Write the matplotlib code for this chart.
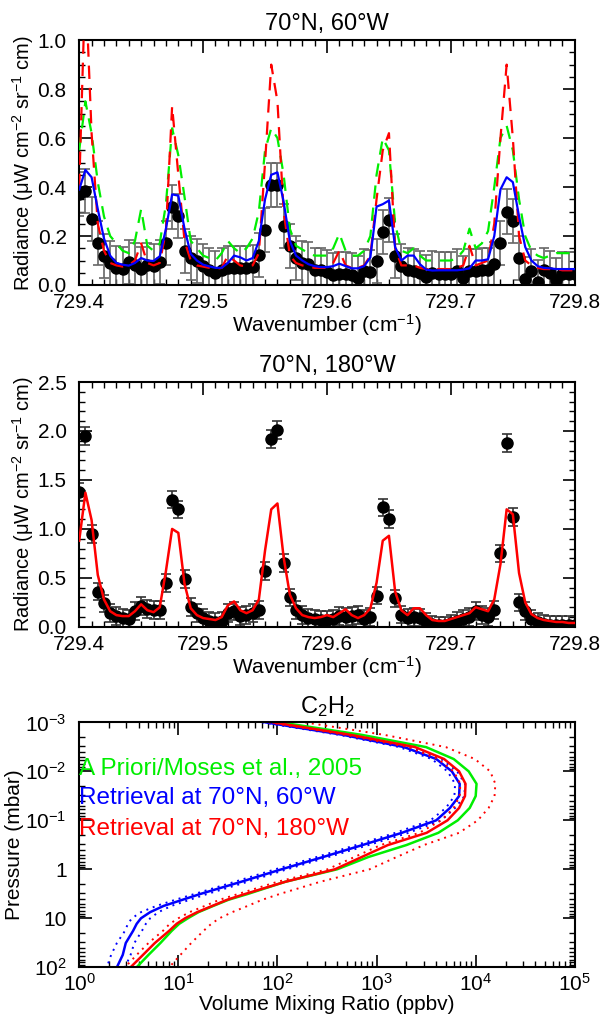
import numpy as np
import matplotlib.pyplot as plt
from matplotlib.ticker import MultipleLocator, FixedLocator, FixedFormatter, LogLocator, NullFormatter

plt.rcParams['font.family'] = ['Liberation Sans', 'DejaVu Sans']
plt.rcParams['mathtext.fontset'] = 'custom'
plt.rcParams['mathtext.rm'] = 'Liberation Sans'
plt.rcParams['mathtext.it'] = 'Liberation Sans:italic'
plt.rcParams['mathtext.default'] = 'regular'
plt.rcParams['axes.linewidth'] = 1.5

# spectral grid (cm-1), 0.005 spacing
wavenumber = np.linspace(729.4, 729.8, 81)

# 70N, 60W spectrum
obs_60w = [0.37, 0.385, 0.27, 0.17, 0.12, 0.09, 0.07, 0.065, 0.094, 0.08,
           0.065, 0.083, 0.076, 0.092, 0.17, 0.32, 0.28, 0.14, 0.11, 0.097,
           0.076, 0.06, 0.05, 0.06, 0.07, 0.07, 0.068, 0.068, 0.075, 0.124,
           0.225, 0.41, 0.41, 0.24, 0.16, 0.11, 0.09, 0.085, 0.063, 0.063,
           0.054, 0.042, 0.045, 0.045, 0.042, 0.028, 0.056, 0.052, 0.099, 0.218,
           0.265, 0.12, 0.077, 0.063, 0.056, 0.05, 0.031, 0.05, 0.045, 0.045,
           0.045, 0.056, 0.028, 0.056, 0.059, 0.063, 0.063, 0.085, 0.17, 0.30,
           0.26, 0.11, 0.025, 0.059, 0.014, 0.063, 0.05, 0.02, 0.045, 0.045,
           0.045]
fit_60w = [0.39, 0.47, 0.44, 0.31, 0.19, 0.12, 0.09, 0.083, 0.079, 0.09,
           0.11, 0.10, 0.098, 0.117, 0.23, 0.37, 0.365, 0.23, 0.127, 0.10,
           0.083, 0.076, 0.07, 0.07, 0.09, 0.12, 0.113, 0.10, 0.11, 0.18,
           0.35, 0.45, 0.46, 0.34, 0.18, 0.12, 0.10, 0.085, 0.077, 0.073,
           0.073, 0.077, 0.087, 0.077, 0.068, 0.068, 0.077, 0.113, 0.32, 0.33,
           0.345, 0.155, 0.10, 0.12, 0.12, 0.085, 0.063, 0.059, 0.06, 0.06,
           0.06, 0.06, 0.063, 0.068, 0.10, 0.10, 0.105, 0.20, 0.39, 0.44,
           0.42, 0.28, 0.155, 0.10, 0.077, 0.07, 0.068, 0.065, 0.065, 0.065,
           0.065]
red_60w = [0.40, 1.25, 0.62, 0.25, 0.14, 0.09, 0.08, 0.075, 0.08, 0.10,
           0.17, 0.09, 0.08, 0.09, 0.22, 0.73, 0.45, 0.18, 0.10, 0.08,
           0.075, 0.07, 0.065, 0.07, 0.12, 0.10, 0.08, 0.075, 0.08, 0.13,
           0.50, 0.90, 0.75, 0.30, 0.12, 0.09, 0.08, 0.075, 0.07, 0.07,
           0.07, 0.09, 0.14, 0.08, 0.07, 0.07, 0.08, 0.12, 0.35, 0.55,
           0.62, 0.15, 0.08, 0.08, 0.08, 0.07, 0.065, 0.065, 0.065, 0.065,
           0.065, 0.07, 0.08, 0.16, 0.08, 0.09, 0.10, 0.25, 0.60, 0.90,
           0.60, 0.20, 0.10, 0.08, 0.07, 0.065, 0.065, 0.065, 0.06, 0.06,
           0.06]
apriori_60w = [0.55, 0.75, 0.62, 0.42, 0.28, 0.20, 0.17, 0.14, 0.13, 0.18,
               0.31, 0.16, 0.14, 0.17, 0.33, 0.64, 0.53, 0.36, 0.18, 0.15,
               0.12, 0.11, 0.10, 0.13, 0.18, 0.15, 0.13, 0.15, 0.19, 0.30,
               0.55, 0.64, 0.60, 0.45, 0.23, 0.16, 0.145, 0.13, 0.12, 0.12,
               0.12, 0.15, 0.21, 0.14, 0.12, 0.12, 0.14, 0.20, 0.45, 0.60,
               0.55, 0.25, 0.14, 0.13, 0.15, 0.12, 0.10, 0.10, 0.10, 0.10,
               0.10, 0.11, 0.14, 0.23, 0.15, 0.17, 0.22, 0.40, 0.60, 0.65,
               0.55, 0.35, 0.20, 0.14, 0.12, 0.11, 0.12, 0.13, 0.13, 0.13,
               0.13]

# 70N, 180W spectrum
obs_180w = [1.38, 1.95, 0.95, 0.36, 0.24, 0.14, 0.11, 0.09, 0.08, 0.16,
            0.21, 0.18, 0.17, 0.17, 0.45, 1.30, 1.20, 0.49, 0.20, 0.14,
            0.09, 0.06, 0.05, 0.06, 0.14, 0.16, 0.11, 0.12, 0.14, 0.17,
            0.57, 1.92, 2.01, 0.65, 0.30, 0.17, 0.12, 0.09, 0.08, 0.07,
            0.07, 0.08, 0.11, 0.10, 0.11, 0.12, 0.08, 0.10, 0.32, 1.22,
            1.10, 0.29, 0.125, 0.09, 0.10, 0.09, 0.05, 0.025, 0.015, 0.015,
            0.035, 0.06, 0.08, 0.10, 0.16, 0.12, 0.10, 0.17, 0.75, 1.88,
            1.12, 0.25, 0.16, 0.08, 0.05, 0.03, 0.02, 0.02, 0.02, 0.02,
            0.02]
fit_180w = [0.88, 1.37, 1.09, 0.53, 0.28, 0.16, 0.12, 0.11, 0.11, 0.16,
            0.23, 0.17, 0.15, 0.20, 0.57, 1.00, 0.96, 0.44, 0.19, 0.12,
            0.09, 0.08, 0.07, 0.10, 0.22, 0.26, 0.17, 0.14, 0.17, 0.28,
            0.78, 1.20, 1.26, 0.71, 0.33, 0.19, 0.12, 0.10, 0.09, 0.10,
            0.12, 0.10, 0.14, 0.18, 0.12, 0.09, 0.12, 0.19, 0.45, 0.88,
            0.93, 0.36, 0.17, 0.12, 0.19, 0.19, 0.12, 0.07, 0.06, 0.06,
            0.08, 0.10, 0.12, 0.14, 0.20, 0.18, 0.16, 0.28, 0.64, 1.20,
            1.15, 0.55, 0.25, 0.13, 0.09, 0.07, 0.06, 0.05, 0.05, 0.04,
            0.04]
err_60w = 0.09
err_180w = 0.09

# C2H2 profiles (pressure in mbar, vmr in ppbv)
pressure = [1e-3, 1.8e-3, 3.2e-3, 5.6e-3, 1e-2, 1.8e-2, 3.2e-2, 5.6e-2, 0.1, 0.18,
            0.32, 0.56, 1.0, 1.8, 3.2, 4.2, 5.6, 7.5, 10.0, 13.0, 18.0, 32.0, 56.0, 100.0]
vmr_apriori = [107, 710, 3160, 6000, 8500, 10200, 10000, 8700, 6600, 4200,
               2000, 830, 400, 120, 50, 32, 22.5, 16, 12.5, 10.2, 8.6, 6.6, 5.0, 3.8]
vmr_60w = [76, 460, 1900, 4000, 5750, 6900, 6800, 5500, 4000, 1800,
           720, 290, 110, 43, 16.6, 11, 7.1, 5.2, 4.2, 3.8, 3.5, 2.95, 2.75, 2.4]
vmr_60w_lo = [70, 420, 1700, 3600, 5200, 6200, 6100, 5000, 3500, 1550,
              620, 250, 95, 37, 14.5, 9.3, 6.0, 4.2, 3.4, 3.1, 2.9, 2.4, 2.1, 1.9]
vmr_60w_hi = [82, 510, 2150, 4500, 6500, 7800, 7700, 6200, 4500, 2100,
              830, 330, 125, 50, 19.5, 13, 8.5, 6.3, 5.2, 4.7, 4.3, 3.6, 3.3, 2.9]
vmr_180w = [91, 550, 2450, 4800, 6800, 7900, 7800, 6800, 5200, 3200,
            1300, 710, 380, 120, 47, 31, 22, 15.5, 11.7, 9.6, 8.1, 5.8, 4.4, 3.3]
vmr_180w_lo = [82, 480, 2100, 4200, 6000, 7000, 6900, 6000, 4500, 2700,
               1100, 600, 320, 100, 40, 26, 18.5, 13, 10, 8.2, 7.0, 5.0, 3.8, 2.9]
vmr_180w_hi = [190, 1200, 5000, 9800, 14000, 15800, 15500, 13500, 10500, 6800,
               3000, 1600, 850, 270, 105, 70, 50, 35, 26, 21.5, 18, 13.5, 10.5, 8.1]

fs = 15
fig = plt.figure(figsize=(6, 10.16), dpi=100)
ax1 = fig.add_axes([0.132, 0.7195, 0.826, 0.241])
ax2 = fig.add_axes([0.132, 0.383, 0.826, 0.241])
ax3 = fig.add_axes([0.132, 0.048, 0.826, 0.241])

def style(ax):
    ax.tick_params(which='both', direction='in', top=True, right=True, labelsize=fs)
    ax.tick_params(axis='x', which='both', pad=6)
    ax.tick_params(axis='y', which='both', pad=9)
    ax.tick_params(which='major', length=9, width=1.2)
    ax.tick_params(which='minor', length=4.5, width=1.0)

ylab = 'Radiance ($\\mu$W cm$^{-2}$ sr$^{-1}$ cm)'

# panel 1
ax1.errorbar(wavenumber, obs_60w, yerr=err_60w, fmt='none', ecolor='#666666',
             elinewidth=1.2, capsize=3.5, capthick=1.2, zorder=2)
ax1.plot(wavenumber, obs_60w, 'o', color='black', markersize=8, zorder=3)
ax1.plot(wavenumber, apriori_60w, color='#00ee00', lw=1.6, dashes=(6, 4), zorder=4)
ax1.plot(wavenumber, red_60w, color='red', lw=1.6, dashes=(6, 4), zorder=5)
ax1.plot(wavenumber, fit_60w, color='blue', lw=1.6, zorder=6)
ax1.set_xlim(729.4, 729.8)
ax1.set_ylim(0, 1.0)
ax1.xaxis.set_major_locator(MultipleLocator(0.1))
ax1.xaxis.set_minor_locator(MultipleLocator(0.01))
ax1.yaxis.set_major_locator(MultipleLocator(0.2))
ax1.yaxis.set_minor_locator(MultipleLocator(0.05))
ax1.yaxis.set_major_formatter(plt.FormatStrFormatter('%.1f'))
ax1.xaxis.set_major_formatter(plt.FormatStrFormatter('%.1f'))
ax1.set_title('70°N, 60°W', fontsize=17, pad=7)
ax1.set_xlabel('Wavenumber (cm$^{-1}$)', fontsize=fs, labelpad=0)
ax1.set_ylabel(ylab, fontsize=14.5, labelpad=1)
style(ax1)

# panel 2
ax2.errorbar(wavenumber, obs_180w, yerr=err_180w, fmt='none', ecolor='#333333',
             elinewidth=1.2, capsize=3.5, capthick=1.2, zorder=2)
ax2.plot(wavenumber, obs_180w, 'o', color='black', markersize=8, zorder=3)
ax2.plot(wavenumber, fit_180w, color='red', lw=1.8, zorder=4)
ax2.set_xlim(729.4, 729.8)
ax2.set_ylim(0, 2.5)
ax2.xaxis.set_major_locator(MultipleLocator(0.1))
ax2.xaxis.set_minor_locator(MultipleLocator(0.01))
ax2.yaxis.set_major_locator(MultipleLocator(0.5))
ax2.yaxis.set_minor_locator(MultipleLocator(0.1))
ax2.yaxis.set_major_formatter(plt.FormatStrFormatter('%.1f'))
ax2.xaxis.set_major_formatter(plt.FormatStrFormatter('%.1f'))
ax2.set_title('70°N, 180°W', fontsize=17, pad=7)
ax2.set_xlabel('Wavenumber (cm$^{-1}$)', fontsize=fs, labelpad=0)
ax2.set_ylabel(ylab, fontsize=14.5, labelpad=1)
style(ax2)

# panel 3
ax3.plot(vmr_apriori, pressure, color='#00ee00', lw=1.8)
ax3.plot(vmr_60w_lo, pressure, color='blue', lw=1.4, ls=(0, (1, 2.5)))
ax3.plot(vmr_60w_hi, pressure, color='blue', lw=1.4, ls=(0, (1, 2.5)))
ax3.plot(vmr_60w, pressure, color='blue', lw=1.8)
ax3.plot(vmr_180w_lo, pressure, color='red', lw=1.4, ls=(0, (1, 2.5)))
ax3.plot(vmr_180w_hi, pressure, color='red', lw=1.4, ls=(0, (1, 2.5)))
ax3.plot(vmr_180w, pressure, color='red', lw=1.8)
ax3.set_xscale('log')
ax3.set_yscale('log')
ax3.set_xlim(1, 1e5)
ax3.set_ylim(100, 1e-3)
ax3.xaxis.set_major_locator(FixedLocator([1, 10, 100, 1e3, 1e4, 1e5]))
ax3.xaxis.set_major_formatter(FixedFormatter(['$10^0$', '$10^1$', '$10^2$', '$10^3$', '$10^4$', '$10^5$']))
ax3.yaxis.set_major_locator(FixedLocator([1e-3, 1e-2, 1e-1, 1, 10, 100]))
ax3.yaxis.set_major_formatter(FixedFormatter(['$10^{-3}$', '$10^{-2}$', '$10^{-1}$', '1', '10', '$10^2$']))
ax3.xaxis.set_minor_locator(LogLocator(base=10, subs=np.arange(2, 10), numticks=20))
ax3.yaxis.set_minor_locator(LogLocator(base=10, subs=np.arange(2, 10), numticks=20))
ax3.xaxis.set_minor_formatter(NullFormatter())
ax3.yaxis.set_minor_formatter(NullFormatter())
ax3.set_title('C$_2$H$_2$', fontsize=17, pad=7)
ax3.set_xlabel('Volume Mixing Ratio (ppbv)', fontsize=fs, labelpad=0)
ax3.set_ylabel('Pressure (mbar)', fontsize=fs, labelpad=1)
style(ax3)
ax3.tick_params(axis='x', which='both', pad=4)

ax3.text(0.0, 0.81, 'A Priori/Moses et al., 2005', color='#00ee00', fontsize=17.5,
         transform=ax3.transAxes, va='center')
ax3.text(0.0, 0.69, 'Retrieval at 70°N, 60°W', color='blue', fontsize=17.5,
         transform=ax3.transAxes, va='center')
ax3.text(0.0, 0.565, 'Retrieval at 70°N, 180°W', color='red', fontsize=17.5,
         transform=ax3.transAxes, va='center')

fig.savefig('out.png', dpi=100)
